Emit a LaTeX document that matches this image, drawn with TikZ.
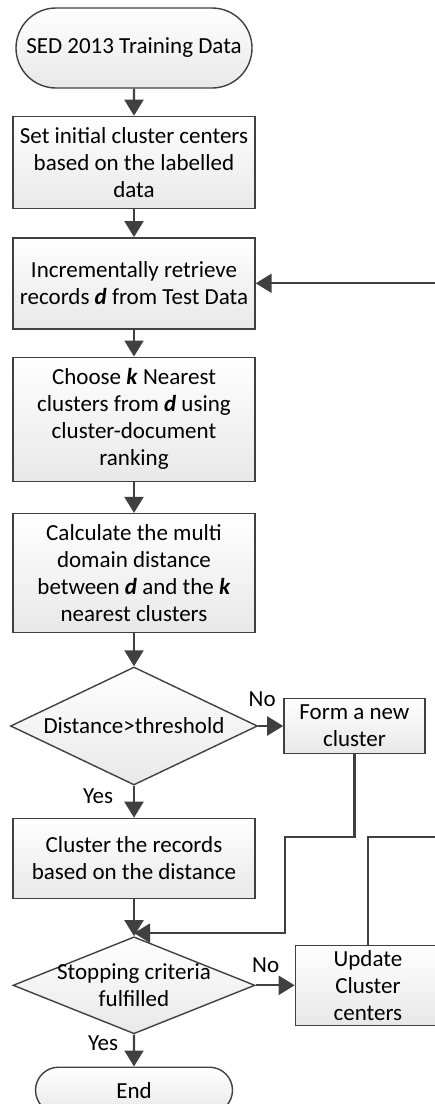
\documentclass[tikz,border=0pt]{standalone}
\usepackage{fontspec}
\setmainfont{Carlito}
\usetikzlibrary{positioning}
\usetikzlibrary{arrows.meta}
\usetikzlibrary{shapes.geometric,shapes.misc}

\definecolor{edge}{HTML}{404040}

\begin{document}
\begin{tikzpicture}[
  node distance=27pt and 25pt,
  every node/.style={font=\fontsize{23}{27}\selectfont, align=center},
  box/.style={
    draw=edge, line width=1.4pt,
    top color=white, bottom color=black!9,
    minimum width=242pt, inner sep=2pt
  },
  terminal/.style={box, rounded rectangle},
  decision/.style={box, diamond, aspect=2, inner sep=0pt},
  arrow/.style={-{Triangle[length=16pt,width=19pt]}, line width=2.2pt, draw=edge},
  lbl/.style={font=\fontsize{23}{27}\selectfont, inner sep=0pt}
]
\useasboundingbox (0pt,0pt) rectangle (435pt,-1104pt);

\node[terminal, minimum width=240pt, minimum height=80pt] (start) at (134pt,-48pt) {SED 2013 Training Data};
\node[box, minimum height=92pt, below=27pt of start] (init) {Set initial cluster centers\\based on the labelled\\data};
\node[box, minimum height=91pt, below=28pt of init] (retrieve) {Incrementally retrieve\\records \textbf{\textit{d}} from Test Data};
\node[box, minimum height=124pt, below=27pt of retrieve] (choose) {Choose \textbf{\textit{k}} Nearest\\clusters from \textbf{\textit{d}} using\\cluster-document\\ranking};
\node[box, minimum height=119pt, below=31pt of choose] (calc) {Calculate the multi\\domain distance\\between \textbf{\textit{d}} and the \textbf{\textit{k}}\\nearest clusters};
\node[decision, minimum width=247pt, minimum height=118pt, below=33pt of calc,
  label={center:Distance>threshold}] (dist) {};
\node[box, minimum width=141pt, minimum height=55pt, right=25pt of dist] (newc) {Form a new\\cluster};
\node[box, minimum height=80pt, below=32pt of dist] (group) {Cluster the records\\based on the distance};
\node[decision, minimum width=242pt, minimum height=97pt, below=37pt of group,
  label={[align=center]center:Stopping criteria\\fulfilled}] (stop) {};
\node[box, minimum width=145pt, minimum height=80pt, right=39pt of stop] (update) {Update\\Cluster\\centers};
\node[terminal, minimum width=201pt, minimum height=46pt, below=32pt of stop] (finish) {End};

\coordinate (join) at (285pt,-837pt);
\coordinate (loop) at (445pt,-837pt);

\draw[arrow] (start) -- (init);
\draw[arrow] (init) -- (retrieve);
\draw[arrow] (retrieve) -- (choose);
\draw[arrow] (choose) -- (calc);
\draw[arrow] (calc) -- (dist);
\draw[arrow] (dist) -- node[lbl, pos=0, xshift=4pt, yshift=27pt] {No} (newc);
\draw[arrow] (dist) -- node[lbl, pos=0, xshift=-36pt, yshift=-10pt] {Yes} (group);
\draw[arrow] (group) -- (stop);
\draw[arrow] (newc.south) |- (join) |- ([yshift=3pt]stop.north);
\draw[arrow] (stop) -- node[lbl, pos=0, xshift=10pt, yshift=20pt] {No} (update);
\draw[arrow] (stop) -- node[lbl, pos=0, xshift=-31pt, yshift=-9pt] {Yes} (finish);
\draw[arrow] (update.north) |- (loop) |- (retrieve.east);
\end{tikzpicture}
\end{document}
